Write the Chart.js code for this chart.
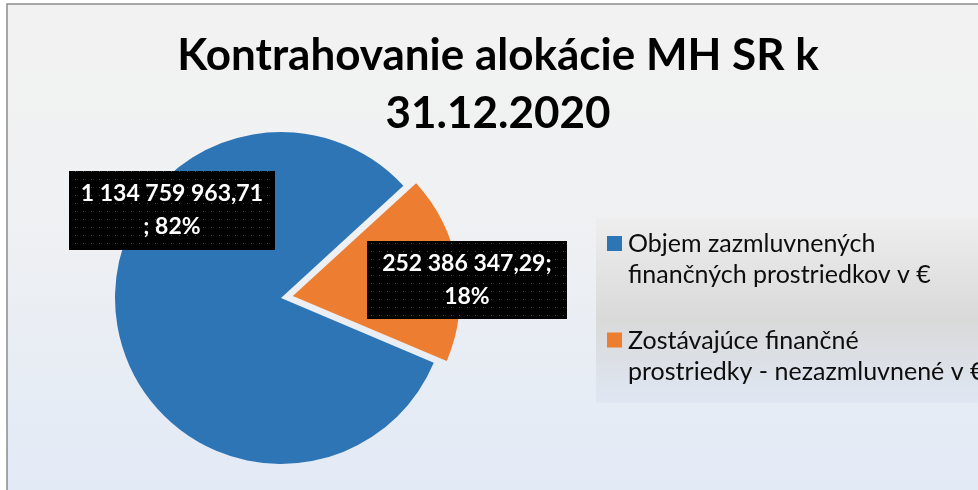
<!DOCTYPE html>
<html lang="sk">
<head>
<meta charset="utf-8">
<title>Kontrahovanie alokácie MH SR k 31.12.2020</title>
<script src="https://cdn.jsdelivr.net/npm/chart.js@4.4.0/dist/chart.umd.min.js"></script>
<style>
  html, body { margin: 0; padding: 0; background: #ffffff; }
  #wrap { width: 978px; height: 490px; }
</style>
</head>
<body>
<div id="wrap"><canvas id="pie-chart" width="978" height="490"></canvas></div>
<script>
// ─── DÁTA ─────────────────────────────────────────────
const titleLines = ['Kontrahovanie alokácie MH SR k', '31.12.2020'];
const categories = [
  ['Objem zazmluvnených', 'finančných prostriedkov v €'],
  ['Zostávajúce finančné', 'prostriedky - nezazmluvnené v €']
];
const amounts = [1134759963.71, 252386347.29];
const sliceColors = ['#2E75B6', '#ED7D31'];

const FONT = 'Lato, Carlito, "Open Sans", sans-serif';

// 1134759963.71 -> "1 134 759 963,71"
function formatAmount(v) {
  const [whole, dec] = v.toFixed(2).split('.');
  return whole.replace(/\B(?=(\d{3})+(?!\d))/g, ' ') + ',' + dec;
}

// čierny box s bodkami (vzor ako v Exceli)
function dotPattern(ctx) {
  const c = document.createElement('canvas');
  c.width = 8; c.height = 8;
  const p = c.getContext('2d');
  p.fillStyle = '#000000';
  p.fillRect(0, 0, 8, 8);
  p.fillStyle = '#4d4d4d';
  p.fillRect(3, 3, 1, 1);
  return ctx.createPattern(c, 'repeat');
}

// ─── POZADIE + RÁMIK ──────────────────────────────────
const backgroundPlugin = {
  id: 'background',
  beforeDraw(chart) {
    const { ctx, width, height } = chart;
    ctx.save();
    ctx.fillStyle = '#ffffff';
    ctx.fillRect(0, 0, width, height);
    const g = ctx.createLinearGradient(0, 4, 0, height);
    g.addColorStop(0, '#f2f2f2');
    g.addColorStop(0.4, '#f0f1f2');
    g.addColorStop(1, '#e2eaf6');
    ctx.fillStyle = g;
    ctx.fillRect(7, 4, width - 7, height - 4);
    ctx.strokeStyle = '#8c8c8c';
    ctx.lineWidth = 1.5;
    ctx.beginPath();
    ctx.moveTo(7, height);
    ctx.lineTo(7, 4);
    ctx.lineTo(width, 4);
    ctx.stroke();
    ctx.restore();
  }
};

// ─── NADPIS ───────────────────────────────────────────
const titlePlugin = {
  id: 'bigTitle',
  afterDraw(chart) {
    const { ctx } = chart;
    ctx.save();
    ctx.fillStyle = '#000000';
    ctx.font = 'bold 44px ' + FONT;
    ctx.textAlign = 'center';
    ctx.textBaseline = 'alphabetic';
    titleLines.forEach((line, i) => ctx.fillText(line, 498, 70 + i * 58));
    ctx.restore();
  }
};

// ─── LEGENDA ──────────────────────────────────────────
const legendPlugin = {
  id: 'sideLegend',
  afterDraw(chart) {
    const { ctx } = chart;
    const labels = chart.data.labels;
    const colors = chart.data.datasets[0].backgroundColor;
    ctx.save();
    const g = ctx.createLinearGradient(0, 218, 0, 403);
    g.addColorStop(0, '#eeeeee');
    g.addColorStop(0.55, '#d9d9d9');
    g.addColorStop(1, '#dfe7f3');
    ctx.fillStyle = g;
    ctx.fillRect(596, 218, 400, 185);

    ctx.font = '25px ' + FONT;
    ctx.textBaseline = 'alphabetic';
    ctx.textAlign = 'left';
    labels.forEach((lines, i) => {
      const top = 236 + i * 96.5;
      ctx.fillStyle = colors[i];
      ctx.fillRect(607, top, 15, 15);
      ctx.fillStyle = '#0d0d0d';
      lines.forEach((t, j) => ctx.fillText(t, 628, top + 16 + j * 31));
    });
    ctx.restore();
  }
};

// ─── POPISY DÁT ───────────────────────────────────────
const dataLabelPlugin = {
  id: 'boxLabels',
  afterDatasetsDraw(chart, args, opts) {
    const { ctx } = chart;
    const meta = chart.getDatasetMeta(0);
    const values = chart.data.datasets[0].data;
    const total = values.reduce((a, b) => a + b, 0);
    const fill = dotPattern(ctx);
    ctx.save();
    ctx.font = 'bold 23px ' + FONT;
    ctx.textAlign = 'center';
    ctx.textBaseline = 'middle';
    meta.data.forEach((arc, i) => {
      const r = arc.outerRadius;
      const cx = arc.x + opts.anchor[i][0] * r;
      const cy = arc.y + opts.anchor[i][1] * r;
      const [w, h] = opts.box[i];
      const amount = formatAmount(values[i]);
      const pct = Math.round(values[i] / total * 100) + '%';
      const lines = opts.split[i] === 'before'
        ? [amount, '; ' + pct]
        : [amount + ';', pct];
      ctx.fillStyle = fill;
      ctx.fillRect(Math.round(cx - w / 2), Math.round(cy - h / 2), w, h);
      ctx.fillStyle = '#ffffff';
      ctx.fillText(lines[0], cx, cy - 16.5);
      ctx.fillText(lines[1], cx, cy + 16.5);
    });
    ctx.restore();
  }
};

// ─── GRAF ─────────────────────────────────────────────
const ctx = document.getElementById('pie-chart').getContext('2d');

new Chart(ctx, {
  type: 'pie',
  data: {
    labels: categories,
    datasets: [{
      data: amounts,
      backgroundColor: sliceColors,
      borderWidth: 0,
      offset: [0, 48]       // oranžový výsek vysunutý
    }]
  },
  options: {
    responsive: false,
    animation: false,
    rotation: 113,
    radius: 166,
    layout: {
      padding: { left: 100, right: 516, top: 120, bottom: 14 }
    },
    plugins: {
      legend: { display: false },
      title: { display: false },
      tooltip: { enabled: false },
      boxLabels: {
        anchor: [[-0.657, -0.53], [1.12, -0.108]],
        box: [[206, 79], [200, 78]],
        split: ['before', 'after']
      }
    }
  },
  plugins: [backgroundPlugin, dataLabelPlugin, legendPlugin, titlePlugin]
});
</script>
</body>
</html>
